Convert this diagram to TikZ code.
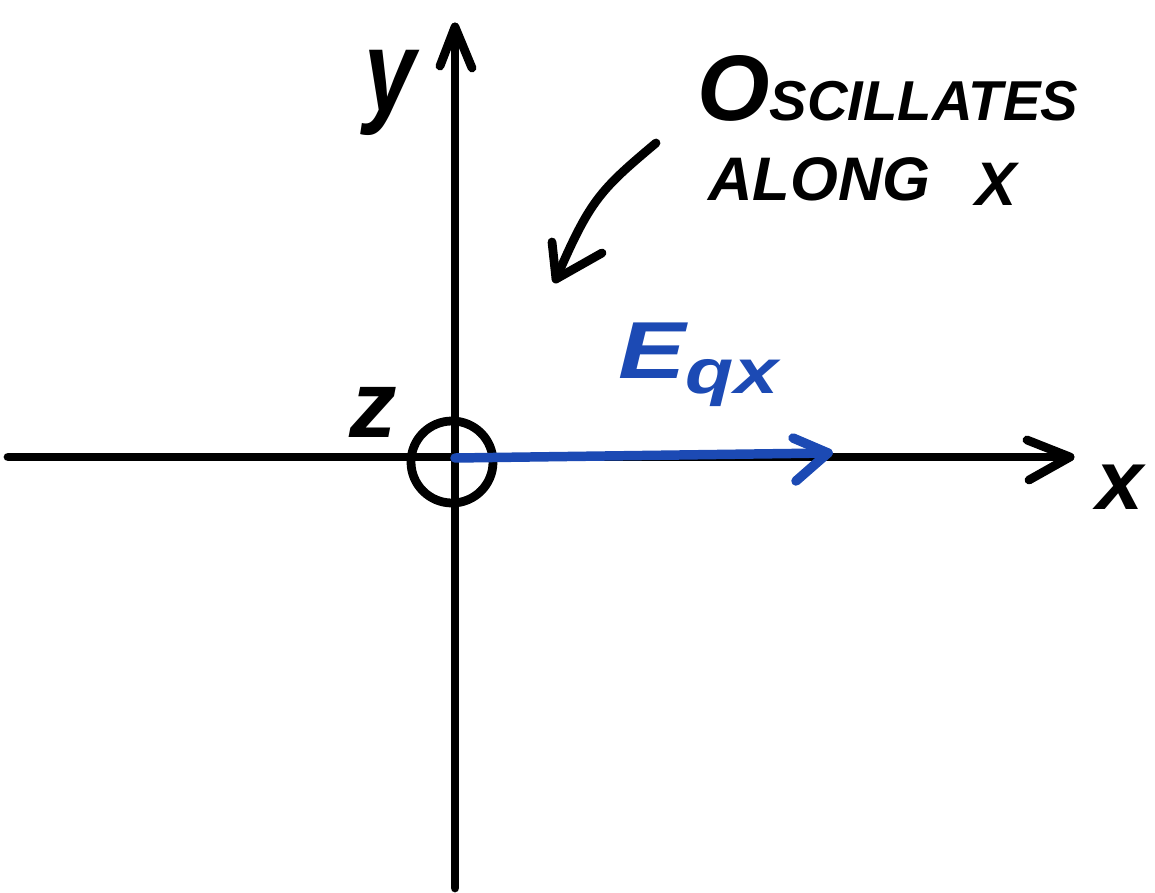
\documentclass[tikz,border=0pt]{standalone}
\usepackage{fontspec}
\setmainfont{Liberation Sans}
\definecolor{penblue}{RGB}{28,74,180}
\begin{document}
\begin{tikzpicture}[x=0.02cm,y=-0.02cm,
  pen/.style={line width=5pt,line cap=round,line join=round,black},
  bluepen/.style={line width=5.4pt,line cap=round,line join=round,penblue},
  hand/.style={inner sep=0pt,font=\bfseries\itshape}]
\useasboundingbox (0,0) rectangle (1155,892);
% axes
\coordinate (xl) at (8,457);
\coordinate (xt) at (1070,457);
\coordinate (xa1) at (1027,440);
\coordinate (xa2) at (1029,480);
\coordinate (yb) at (455,888);
\coordinate (yt) at (455,27);
\coordinate (ya1) at (440,66);
\coordinate (ya2) at (472,68);
\draw[pen] (xl) -- (xt);
\draw[pen] (xa1) -- (xt) -- (xa2);
\draw[pen] (yb) -- (yt);
\draw[pen] (ya1) -- (yt) -- (ya2);
% z circle at origin
\node[draw,pen,circle,minimum size=82*0.02cm,inner sep=0pt] (zc) at (452,462) {};
% blue vector
\coordinate (bs) at (455,458);
\coordinate (bt) at (828,453);
\coordinate (ba1) at (793,438);
\coordinate (ba2) at (796,481);
\draw[bluepen] (bs) -- (bt);
\draw[bluepen] (ba1) -- (bt) -- (ba2);
\node[hand,text=penblue,anchor=base west,xscale=1.25] (elab) at (618,378)
  {\fontsize{46}{46}\selectfont E\raisebox{-9pt}{\fontsize{36}{36}\selectfont qx}};
% axis labels
\node[hand,anchor=center] (zlab) at (373,412) {\fontsize{54}{54}\selectfont z};
\node[hand,anchor=center] (xlab) at (1120,487) {\fontsize{48}{48}\selectfont x};
\node[hand,anchor=base,xscale=0.8] (ylab) at (390,112) {\fontsize{66}{66}\selectfont y};
% annotation
\node[hand,anchor=base west] (t1) at (697,120)
  {\fontsize{53}{53}\selectfont O\fontsize{32}{32}\selectfont SCILLATES};
\node[hand,anchor=base west] (t2) at (708,200) {\fontsize{35}{35}\selectfont ALONG};
\node[hand,anchor=base west] (t3) at (975,205) {\fontsize{35}{35}\selectfont X};
\coordinate (cs) at (656,143);
\coordinate (ct) at (556,279);
\coordinate (ca1) at (552,242);
\coordinate (ca2) at (602,253);
\draw[pen] (cs) .. controls (600,190) and (590,200) .. (ct);
\draw[pen] (ca1) -- (ct) -- (ca2);
\end{tikzpicture}
\end{document}
